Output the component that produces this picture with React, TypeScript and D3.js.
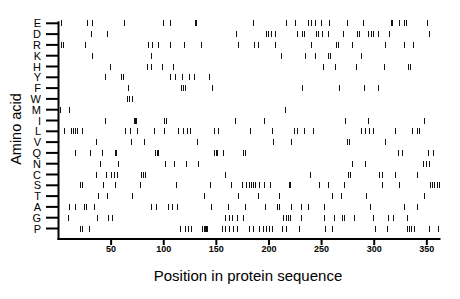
import * as d3 from 'd3';

const aminoAcids = ['E', 'D', 'R', 'K', 'H', 'Y', 'F', 'W', 'M', 'I', 'L', 'V', 'Q', 'N', 'C', 'S', 'T', 'A', 'G', 'P'];

const posE = [2, 27, 32, 62, 99, 106, 130, 131, 185, 216, 225, 237, 240, 244, 249, 257, 274, 289, 316, 317, 324, 328, 330, 350];
const posD = [31, 46, 169, 197, 199, 202, 206, 227, 231, 233, 245, 247, 250, 256, 270, 284, 286, 294, 297, 299, 304, 314, 352];
const posR = [2, 4, 25, 85, 89, 95, 106, 119, 135, 171, 186, 190, 206, 240, 264, 266, 279, 310, 328, 337];
const posK = [32, 88, 211, 234, 244, 256, 258, 287];
const posH = [49, 84, 88, 98, 109, 251, 263, 283, 309, 332, 334];
const posY = [44, 59, 61, 106, 111, 117, 124, 129, 143];
const posF = [66, 116, 118, 120, 146, 231, 267, 290, 304];
const posW = [65, 67, 70];
const posM = [1, 10, 215];
const posI = [44, 72, 73, 74, 100, 102, 168, 195, 272, 294, 347];
const posL = [5, 12, 14, 16, 18, 22, 63, 68, 75, 91, 100, 114, 118, 122, 125, 148, 152, 182, 203, 224, 227, 233, 242, 287, 291, 295, 299, 320, 336, 341, 343];
const posV = [36, 69, 81, 132, 204, 221, 274, 276, 310];
const posQ = [16, 30, 41, 54, 55, 92, 94, 95, 148, 150, 151, 156, 175, 177, 323, 326, 351, 356];
const posN = [39, 57, 101, 110, 121, 133, 279, 291, 346, 349, 352];
const posC = [36, 45, 50, 53, 56, 78, 80, 82, 158, 239, 275, 277, 305, 307, 320, 341];
const posS = [20, 22, 42, 54, 77, 112, 144, 164, 174, 178, 181, 183, 185, 187, 191, 195, 201, 219, 220, 248, 256, 271, 307, 324, 353, 355, 357, 360, 362];
const posT = [38, 46, 70, 138, 171, 190, 210, 260, 268, 292, 347];
const posA = [10, 16, 24, 26, 34, 88, 93, 104, 108, 113, 145, 161, 177, 196, 208, 210, 221, 230, 237, 252, 296, 328, 341];
const posG = [9, 37, 47, 51, 158, 162, 165, 170, 175, 213, 216, 218, 220, 230, 252, 262, 269, 271, 281, 299, 313, 318, 331];
const posP = [20, 22, 29, 115, 120, 123, 126, 136, 138, 139, 140, 141, 155, 158, 162, 166, 170, 181, 185, 191, 194, 197, 200, 203, 212, 216, 229, 253, 260, 301, 312, 331, 333, 335, 338, 352, 361];

const xTicks = [50, 100, 150, 200, 250, 300, 350];
const seqLength = 363;

const positions: Record<string, number[]> = {
  E: posE, D: posD, R: posR, K: posK, H: posH, Y: posY, F: posF, W: posW, M: posM, I: posI,
  L: posL, V: posV, Q: posQ, N: posN, C: posC, S: posS, T: posT, A: posA, G: posG, P: posP,
};

const font = "'Liberation Sans', Arial, Helvetica, sans-serif";

export default function App() {
  const width = 460;
  const height = 299;
  const left = 58.5;
  const right = 440.5;
  const axisY = 239;

  const x = d3.scaleLinear().domain([0, seqLength]).range([left, right]);
  const y = d3.scalePoint<string>().domain(aminoAcids).range([23.3, 228.5]);

  const markHalf = 3;

  return (
    <div style={{ position: 'fixed', left: 0, top: 0 }}>
      <svg width={width} height={height} style={{ display: 'block', background: '#fff' }}>
        {/* position marks */}
        <g stroke="#111" strokeWidth={1} shapeRendering="crispEdges">
          {aminoAcids.map(aa =>
            positions[aa].map((p, i) => (
              <line
                key={aa + i}
                x1={Math.round(x(p)) + 0.5}
                x2={Math.round(x(p)) + 0.5}
                y1={(y(aa) ?? 0) - markHalf}
                y2={(y(aa) ?? 0) + markHalf}
              />
            ))
          )}
        </g>

        {/* y axis */}
        <g stroke="#000" strokeWidth={2}>
          <line x1={left} x2={left} y1={(y('E') ?? 0) - 2} y2={axisY + 1} />
          {aminoAcids.map(aa => (
            <line key={aa} x1={46} x2={left} y1={y(aa)} y2={y(aa)} />
          ))}
        </g>
        {aminoAcids.map(aa => (
          <text
            key={aa}
            x={41}
            y={(y(aa) ?? 0) + 4}
            textAnchor="end"
            fontFamily={font}
            fontSize={11}
            fill="#000"
          >
            {aa}
          </text>
        ))}

        {/* x axis */}
        <g stroke="#000" strokeWidth={2}>
          <line x1={left - 1} x2={right} y1={axisY} y2={axisY} />
          {xTicks.map(t => (
            <line key={t} x1={x(t)} x2={x(t)} y1={axisY} y2={axisY + 6} />
          ))}
        </g>
        {xTicks.map(t => (
          <text
            key={t}
            x={x(t)}
            y={252}
            textAnchor="middle"
            fontFamily={font}
            fontSize={9}
            fontWeight="bold"
            fill="#000"
          >
            {t}
          </text>
        ))}

        <text x={248} y={281} textAnchor="middle" fontFamily={font} fontSize={15} fill="#000">
          Position in protein sequence
        </text>
        <text
          transform="translate(21,129) rotate(-90)"
          textAnchor="middle"
          fontFamily={font}
          fontSize={14.5}
          fill="#000"
        >
          Amino acid
        </text>
      </svg>
    </div>
  );
}
